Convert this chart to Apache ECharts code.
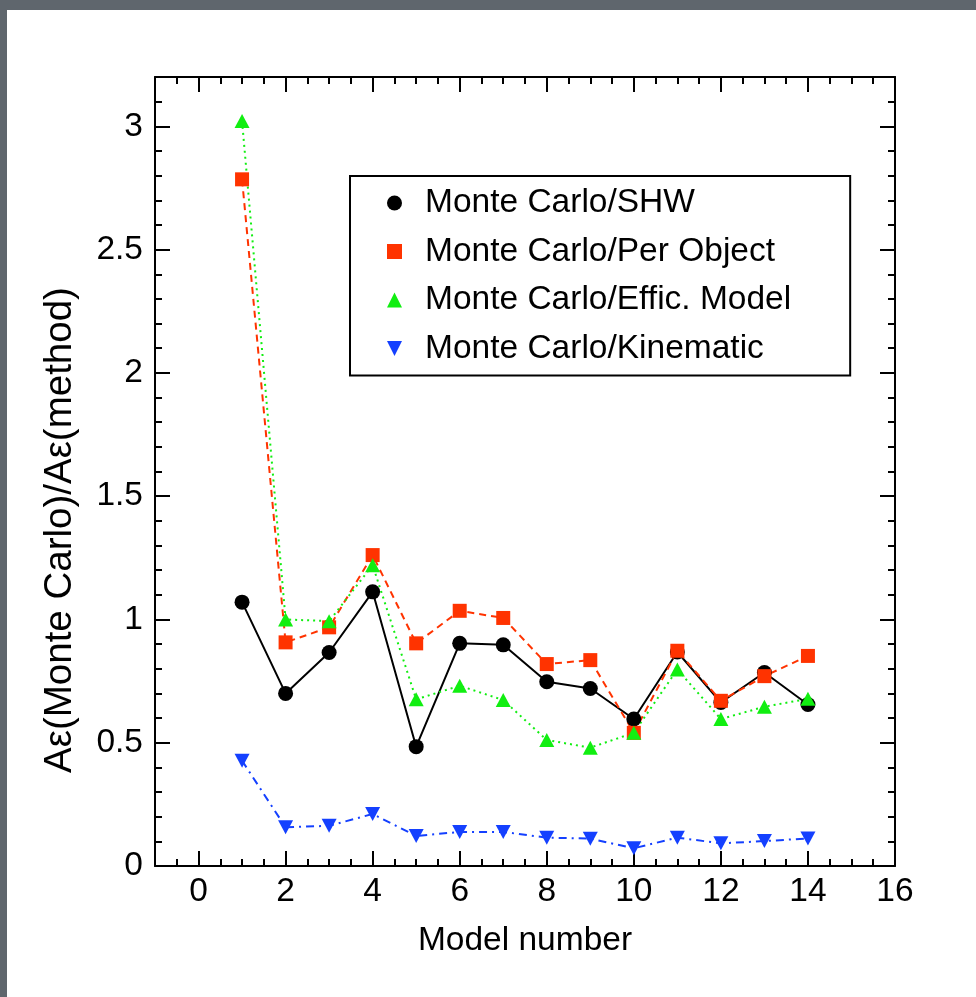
<!DOCTYPE html>
<html>
<head>
<meta charset="utf-8">
<title>Monte Carlo / method</title>
<script src="https://cdn.jsdelivr.net/npm/echarts@6/dist/echarts.min.js"></script>
<style>
html, body { margin: 0; padding: 0; background: #5f666d; }
#chart { position: absolute; left: 7px; top: 10px; width: 969px; height: 987px; background: #fff; }
</style>
</head>
<body>
<div id="chart"></div>
<script>
// values
var models = [1, 2, 3, 4, 5, 6, 7, 8, 9, 10, 11, 12, 13, 14];
var shw = [1.07, 0.70, 0.866, 1.112, 0.484, 0.903, 0.897, 0.747, 0.72, 0.596, 0.868, 0.663, 0.785, 0.655];
var perObject = [2.785, 0.907, 0.968, 1.261, 0.903, 1.035, 1.006, 0.819, 0.835, 0.54, 0.873, 0.67, 0.77, 0.852];
var efficModel = [3.022, 1.0, 0.993, 1.22, 0.676, 0.731, 0.673, 0.511, 0.48, 0.54, 0.797, 0.596, 0.646, 0.678];
var kinematic = [0.427, 0.157, 0.163, 0.211, 0.122, 0.138, 0.138, 0.115, 0.111, 0.072, 0.115, 0.092, 0.101, 0.112];

var names = ['Monte Carlo/SHW', 'Monte Carlo/Per Object', 'Monte Carlo/Effic. Model', 'Monte Carlo/Kinematic'];
var xMajor = [0, 2, 4, 6, 8, 10, 12, 14, 16];
var yMajor = [0, 0.5, 1, 1.5, 2, 2.5, 3];

var font = '"Liberation Sans", Arial, Helvetica, sans-serif';
var fs = 33.5;

function pairs(vals) {
    return models.map(function (m, i) { return [m, vals[i]]; });
}

// one axis with long ticks (+ labels), one with the short minor ticks
function xAxisOf(pos, major, labels) {
    return {
        type: 'value', position: pos, min: -1, max: 16,
        interval: major ? 1 : 0.5,
        axisLine: { show: major, onZero: false, lineStyle: { color: '#000', width: 2 } },
        axisTick: {
            show: true, inside: true, length: major ? 15 : 7,
            customValues: major ? xMajor : undefined,
            lineStyle: { color: '#000', width: 2 }
        },
        axisLabel: {
            show: labels, customValues: xMajor, margin: 9,
            color: '#000', fontSize: fs, fontFamily: font
        },
        splitLine: { show: false }
    };
}
function yAxisOf(pos, major, labels) {
    return {
        type: 'value', position: pos, min: 0, max: 3.2,
        interval: major ? 0.5 : 0.1,
        axisLine: { show: major, onZero: false, lineStyle: { color: '#000', width: 2 } },
        axisTick: {
            show: true, inside: true, length: major ? 15 : 7,
            customValues: major ? yMajor : undefined,
            lineStyle: { color: '#000', width: 2 }
        },
        axisLabel: {
            show: labels, customValues: yMajor, margin: 12,
            color: '#000', fontSize: fs, fontFamily: font
        },
        splitLine: { show: false }
    };
}

var xAxes = [xAxisOf('bottom', true, true), xAxisOf('bottom', false, false),
             xAxisOf('top', true, false), xAxisOf('top', false, false)];
xAxes[0].name = 'Model number';
xAxes[0].nameLocation = 'middle';
xAxes[0].nameGap = 58;
xAxes[0].nameTextStyle = { color: '#000', fontSize: fs, fontFamily: font };

var yAxes = [yAxisOf('left', true, true), yAxisOf('left', false, false),
             yAxisOf('right', true, false), yAxisOf('right', false, false)];

var chart = echarts.init(document.getElementById('chart'));
var option = {
    animation: false,
    backgroundColor: '#fff',
    grid: { left: 148, right: 81, top: 67, bottom: 131 },
    xAxis: xAxes,
    yAxis: yAxes,
    graphic: [{
        type: 'text', x: 53, y: 520, rotation: Math.PI / 2,
        style: {
            text: 'A\u03b5(Monte Carlo)/A\u03b5(method)',
            fill: '#000', fontSize: 38.5, fontFamily: font,
            align: 'center', verticalAlign: 'middle'
        }
    }],
    legend: {
        orient: 'vertical', left: 343, top: 166,
        padding: [10, 59, 10, 37],
        itemWidth: 15, itemHeight: 15, itemGap: 14.5,
        borderColor: '#000', borderWidth: 2, backgroundColor: '#fff',
        selectedMode: false,
        textStyle: { color: '#000', fontSize: fs, fontFamily: font, lineHeight: 34, padding: [0, 0, 0, 18] },
        data: [
            { name: names[0], icon: 'circle' },
            { name: names[1], icon: 'rect' },
            { name: names[2], icon: 'triangle' },
            { name: names[3], icon: 'path://M0,0L10,0L5,10Z' }
        ]
    },
    series: [{
        name: names[0], type: 'line', data: pairs(shw),
        symbol: 'circle', symbolSize: 15,
        itemStyle: { color: '#000' },
        lineStyle: { color: '#000', width: 2, type: 'solid' }
    }, {
        name: names[1], type: 'line', data: pairs(perObject),
        symbol: 'rect', symbolSize: 14,
        itemStyle: { color: '#ff3300' },
        lineStyle: { color: '#ff3300', width: 2, type: [7, 5] }
    }, {
        name: names[2], type: 'line', data: pairs(efficModel),
        symbol: 'triangle', symbolSize: [15, 14],
        itemStyle: { color: '#11ee11' },
        lineStyle: { color: '#11ee11', width: 2, type: [2, 4] }
    }, {
        name: names[3], type: 'line', data: pairs(kinematic),
        symbol: 'triangle', symbolRotate: 180, symbolSize: [15, 14],
        itemStyle: { color: '#1440ff' },
        lineStyle: { color: '#1440ff', width: 2, type: [8, 5, 2, 5] }
    }]
};
chart.setOption(option);
</script>
</body>
</html>
